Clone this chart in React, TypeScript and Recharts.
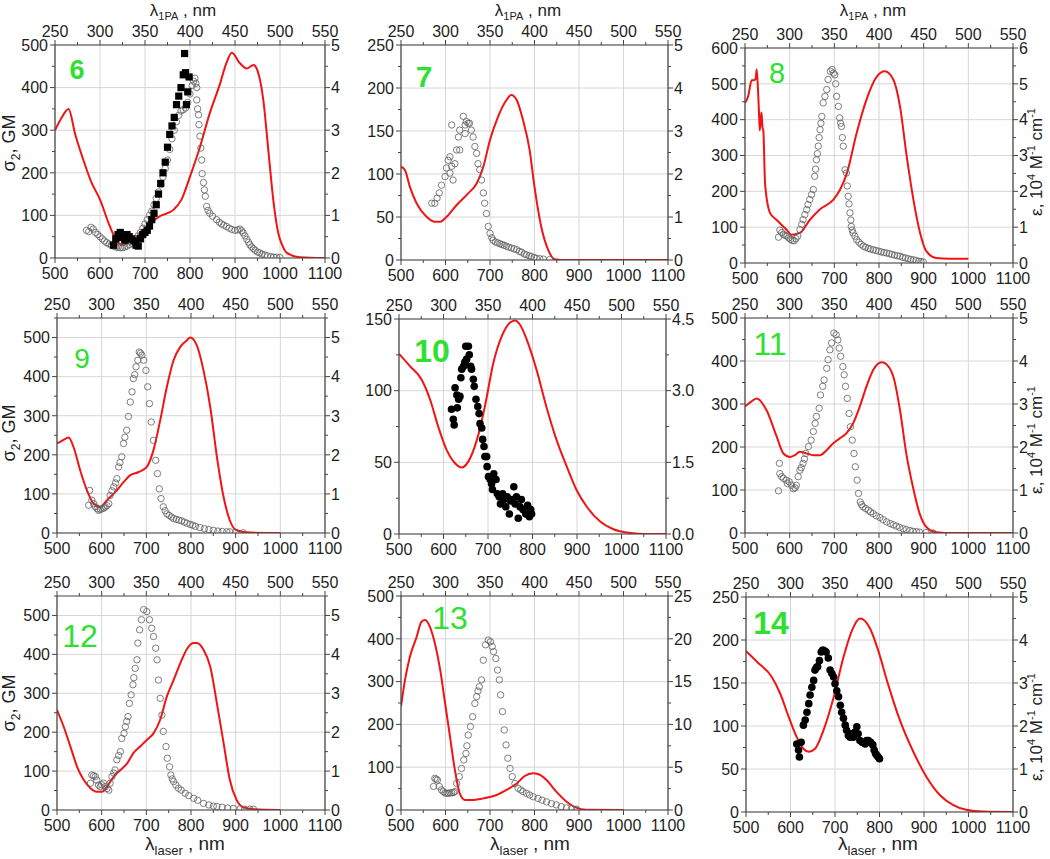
import React from "react";
import {
  ComposedChart,
  Line,
  Scatter,
  XAxis,
  YAxis,
  CartesianGrid,
} from "recharts";

type Pt = [number, number];

// laser wavelength axis (bottom) and 1PA wavelength axis (top)
const laserTicks = [500, 600, 700, 800, 900, 1000, 1100];
const onePaTicks = [250, 300, 350, 400, 450, 500, 550];

// ---- compound 6 ----
const abs6: Pt[] = [[500, 3.0], [515, 3.3], [530, 3.5], [545, 2.9], [563, 2.3], [580, 1.8], [600, 1.37], [622, 0.74], [641, 0.35], [652, 0.31], [674, 0.43], [704, 0.74], [733, 0.98], [763, 1.13], [781, 1.37], [800, 1.91], [822, 2.6], [844, 3.4], [867, 4.1], [880, 4.55], [893, 4.82], [911, 4.57], [926, 4.45], [941, 4.53], [950, 4.4], [963, 3.7], [974, 2.54], [985, 1.37], [996, 0.59], [1005, 0.3], [1015, 0.12], [1044, 0.02], [1100, 0]];
const open6: Pt[] = [[570, 65], [575, 62], [580, 72], [585, 68], [590, 60], [595, 55], [600, 50], [605, 45], [610, 40], [615, 36], [620, 33], [625, 30], [630, 28], [635, 26], [640, 25], [645, 24], [650, 24], [655, 26], [660, 28], [665, 31], [670, 35], [675, 40], [680, 45], [685, 52], [690, 60], [695, 70], [700, 80], [705, 90], [710, 100], [715, 110], [720, 125], [725, 140], [730, 155], [735, 172], [740, 190], [745, 210], [750, 230], [755, 255], [760, 280], [765, 300], [770, 320], [775, 335], [780, 345], [785, 348], [790, 352], [795, 365], [800, 385], [805, 405], [808, 415], [811, 422], [813, 410], [815, 400], [815, 371], [817, 350], [819, 336], [820, 313], [822, 286], [824, 258], [826, 230], [827, 198], [830, 177], [832, 160], [834, 145], [837, 121], [840, 112], [844, 105], [850, 98], [859, 90], [865, 84], [870, 80], [875, 77], [881, 74], [887, 70], [893, 67], [900, 65], [906, 66], [911, 68], [915, 64], [918, 59], [922, 52], [926, 44], [930, 37], [933, 31], [937, 26], [941, 22], [945, 18], [950, 14], [955, 12], [960, 9], [966, 7], [972, 5], [980, 3], [986, 2], [992, 2], [1000, 1]];
const filled6: Pt[] = [[630, 30], [635, 45], [640, 55], [645, 60], [650, 48], [655, 42], [660, 55], [665, 50], [670, 45], [675, 40], [680, 30], [685, 28], [690, 45], [695, 55], [700, 60], [705, 65], [710, 75], [715, 90], [720, 105], [725, 125], [730, 150], [735, 175], [740, 200], [745, 225], [750, 260], [755, 290], [760, 310], [765, 330], [770, 360], [775, 380], [780, 400], [785, 430], [788, 480], [790, 435], [792, 360], [795, 390], [798, 425]];

// ---- compound 7 ----
const abs7: Pt[] = [[500, 2.17], [509, 2.09], [520, 1.7], [535, 1.32], [558, 1.0], [576, 0.89], [588, 0.89], [602, 1.0], [625, 1.28], [651, 1.55], [670, 1.78], [685, 2.17], [700, 2.79], [718, 3.33], [737, 3.72], [748, 3.84], [760, 3.72], [774, 3.26], [789, 2.56], [800, 1.7], [815, 0.78], [831, 0.23], [845, 0.02], [872, 0], [1100, 0]];
const open7: Pt[] = [[569, 66], [576, 66], [581, 72], [586, 78], [591, 87], [599, 97], [602, 107], [606, 116], [610, 120], [610, 101], [614, 109], [617, 93], [614, 157], [621, 112], [625, 128], [629, 143], [632, 151], [632, 128], [640, 167], [644, 147], [644, 157], [647, 161], [651, 159], [654, 159], [658, 151], [662, 143], [666, 132], [670, 124], [673, 112], [677, 105], [681, 93], [685, 78], [688, 66], [692, 54], [696, 39], [700, 31], [704, 26], [707, 23], [712, 21], [717, 20], [722, 19], [727, 18], [732, 17], [737, 16], [742, 15], [748, 14], [754, 13], [760, 12], [766, 10], [771, 9], [777, 7], [782, 6], [788, 5], [793, 4], [799, 3], [804, 2], [812, 1.5], [820, 1], [834, 0.5]];

// ---- compound 8 ----
const abs8: Pt[] = [[500, 4.47], [507, 4.65], [515, 5.1], [520, 5.1], [524, 5.15], [526, 5.4], [528, 5.1], [531, 4.3], [533, 3.7], [535, 4.0], [537, 4.2], [539, 3.8], [541, 3.7], [545, 2.2], [556, 1.4], [571, 1.2], [593, 0.93], [604, 0.79], [623, 0.84], [645, 1.2], [668, 1.5], [698, 1.77], [713, 2.05], [728, 2.5], [750, 3.63], [772, 4.56], [795, 5.2], [813, 5.35], [832, 5.12], [847, 4.37], [862, 2.98], [877, 1.77], [892, 0.84], [906, 0.33], [928, 0.14], [958, 0.12], [1000, 0.12]];
const open8: Pt[] = [[575, 72], [578, 92], [582, 85], [586, 80], [590, 77], [594, 75], [598, 70], [602, 66], [606, 63], [610, 62], [614, 68], [618, 75], [623, 93], [627, 108], [630, 121], [634, 135], [638, 149], [641, 163], [645, 177], [649, 191], [653, 205], [656, 242], [658, 262], [660, 288], [662, 305], [664, 326], [666, 350], [668, 372], [670, 390], [672, 409], [675, 447], [679, 465], [683, 484], [686, 512], [691, 535], [695, 540], [698, 530], [701, 525], [703, 500], [705, 465], [709, 437], [712, 405], [714, 390], [716, 381], [718, 350], [720, 326], [724, 260], [727, 251], [729, 215], [731, 186], [733, 165], [735, 140], [737, 120], [738, 102], [740, 92], [742, 84], [746, 75], [750, 65], [755, 58], [760, 52], [765, 47], [770, 44], [776, 41], [781, 39], [787, 37], [793, 35], [799, 33], [805, 31], [811, 29], [817, 28], [823, 26], [829, 24], [835, 22], [841, 20], [847, 19], [853, 16], [859, 14], [865, 12], [871, 10], [877, 9], [883, 7], [889, 5], [894, 4], [899, 3]];

// ---- compound 9 ----
const abs9: Pt[] = [[500, 2.29], [510, 2.35], [519, 2.41], [526, 2.44], [537, 2.2], [552, 1.6], [567, 1.09], [582, 0.75], [597, 0.67], [612, 0.84], [634, 1.09], [649, 1.3], [664, 1.48], [683, 1.56], [701, 1.69], [716, 2.12], [731, 2.88], [746, 3.74], [761, 4.42], [776, 4.76], [791, 4.93], [798, 5.0], [813, 4.8], [828, 4.16], [843, 3.23], [858, 1.95], [873, 0.92], [887, 0.32], [902, 0.07], [932, 0.01], [1000, 0]];
const open9: Pt[] = [[573, 109], [571, 71], [578, 84], [582, 75], [586, 67], [590, 62], [593, 58], [597, 60], [601, 62], [605, 64], [608, 67], [612, 70], [616, 75], [619, 96], [623, 108], [627, 118], [631, 128], [634, 139], [638, 169], [641, 180], [645, 195], [649, 229], [652, 245], [656, 263], [660, 298], [664, 335], [668, 361], [671, 395], [674, 405], [677, 425], [681, 442], [684, 463], [687, 460], [690, 455], [694, 442], [699, 416], [703, 374], [707, 331], [711, 284], [716, 237], [721, 186], [725, 152], [729, 113], [733, 88], [738, 67], [742, 57], [746, 49], [751, 45], [756, 41], [761, 37], [767, 35], [773, 33], [779, 31], [785, 28], [791, 25], [798, 22], [804, 20], [810, 17], [820, 14], [830, 11], [840, 9], [850, 7], [860, 5], [870, 4], [880, 3], [887, 3], [900, 2], [917, 0.5]];

// ---- compound 10 ----
const abs10: Pt[] = [[500, 3.77], [525, 3.51], [551, 3.23], [570, 2.81], [588, 2.25], [607, 1.76], [626, 1.48], [641, 1.39], [656, 1.52], [675, 1.97], [693, 2.67], [712, 3.58], [731, 4.14], [749, 4.42], [761, 4.47], [772, 4.38], [787, 4.07], [809, 3.44], [831, 2.67], [854, 1.97], [877, 1.41], [899, 0.92], [922, 0.57], [952, 0.26], [982, 0.1], [1012, 0.03], [1049, 0], [1100, 0]];
const dots10: Pt[] = [[618, 87], [622, 80], [624, 76], [626, 102], [630, 97], [631, 88], [634, 94], [637, 96], [639, 109], [641, 115], [645, 117], [648, 120], [652, 122], [650, 131], [656, 131], [658, 125], [661, 117], [663, 115], [667, 108], [669, 103], [673, 94], [677, 89], [680, 84], [682, 77], [686, 74], [688, 66], [691, 61], [693, 54], [697, 54], [698, 47], [701, 40], [705, 38], [708, 35], [710, 31], [713, 42], [718, 38], [721, 28], [725, 26], [728, 21], [733, 28], [736, 24], [740, 19], [743, 26], [748, 14], [751, 23], [755, 24], [758, 33], [761, 21], [764, 26], [768, 11], [772, 19], [775, 24], [779, 17], [785, 14], [789, 20], [793, 12], [796, 17], [798, 14]];

// ---- compound 11 ----
const abs11: Pt[] = [[500, 2.94], [513, 3.05], [526, 3.13], [548, 2.86], [571, 2.24], [586, 1.85], [601, 1.77], [612, 1.81], [623, 1.89], [638, 1.85], [653, 1.81], [668, 1.81], [683, 1.93], [697, 2.08], [712, 2.2], [727, 2.32], [742, 2.55], [757, 2.94], [772, 3.41], [787, 3.79], [806, 3.97], [813, 3.95], [832, 3.64], [847, 2.86], [861, 1.85], [876, 1.07], [891, 0.45], [906, 0.14], [928, 0.02], [966, 0], [1100, 0]];
const open11: Pt[] = [[577, 162], [575, 98], [578, 138], [582, 131], [586, 127], [592, 123], [595, 115], [599, 119], [604, 111], [608, 103], [612, 105], [615, 111], [619, 131], [623, 146], [626, 152], [630, 162], [633, 172], [636, 185], [642, 201], [648, 216], [653, 236], [657, 255], [660, 271], [666, 290], [669, 321], [674, 341], [677, 356], [683, 383], [686, 403], [690, 426], [694, 442], [699, 465], [704, 461], [708, 449], [711, 430], [714, 411], [719, 387], [722, 368], [725, 341], [729, 313], [733, 278], [736, 247], [740, 216], [744, 185], [747, 154], [751, 123], [754, 92], [758, 72], [761, 66], [764, 61], [770, 57], [776, 53], [781, 49], [787, 45], [794, 40], [802, 36], [809, 31], [817, 26], [825, 22], [832, 19], [839, 16], [846, 13], [854, 10], [861, 8], [869, 6], [876, 4], [884, 3], [891, 2], [905, 1], [921, 0]];

// ---- compound 12 ----
const abs12: Pt[] = [[500, 2.57], [515, 2.14], [530, 1.63], [545, 1.11], [560, 0.77], [575, 0.56], [589, 0.47], [601, 0.47], [612, 0.6], [627, 0.86], [642, 1.03], [657, 1.2], [671, 1.46], [686, 1.63], [701, 1.8], [716, 1.97], [731, 2.32], [746, 2.92], [761, 3.34], [776, 3.77], [790, 4.12], [805, 4.29], [813, 4.29], [828, 4.12], [843, 3.69], [858, 2.74], [873, 1.72], [887, 0.77], [902, 0.26], [917, 0.07], [940, 0.02], [1000, 0]];
const open12: Pt[] = [[575, 69], [578, 90], [582, 88], [586, 86], [589, 77], [593, 64], [597, 60], [600, 65], [604, 69], [608, 60], [612, 55], [616, 51], [619, 69], [623, 86], [627, 95], [630, 103], [634, 129], [638, 140], [642, 150], [645, 184], [650, 197], [653, 214], [656, 228], [659, 240], [662, 274], [666, 296], [670, 322], [672, 340], [675, 364], [679, 386], [681, 429], [685, 463], [689, 489], [694, 515], [701, 510], [707, 489], [712, 467], [716, 446], [721, 416], [724, 386], [727, 334], [731, 287], [735, 244], [738, 202], [744, 163], [747, 133], [752, 111], [755, 90], [758, 80], [761, 73], [766, 64], [772, 56], [778, 51], [787, 43], [795, 37], [806, 30], [815, 25], [828, 17], [840, 13], [850, 10], [858, 9], [870, 7], [882, 5], [895, 4], [910, 3], [920, 2], [932, 2], [940, 2]];

// ---- compound 13 ----
const abs13: Pt[] = [[500, 12.1], [509, 15.2], [520, 17.9], [535, 20.2], [546, 22.0], [554, 22.2], [565, 21.4], [576, 19.5], [588, 16.4], [599, 12.5], [610, 8.6], [621, 4.7], [632, 1.95], [644, 1.17], [659, 1.17], [685, 1.36], [715, 1.75], [737, 2.34], [760, 3.1], [778, 3.97], [797, 4.28], [808, 4.2], [827, 3.5], [849, 2.14], [872, 0.97], [894, 0.27], [916, 0.04], [1000, 0]];
const open13: Pt[] = [[573, 55], [576, 74], [579, 72], [582, 70], [586, 55], [591, 47], [595, 43], [599, 40], [603, 39], [606, 39], [610, 40], [614, 40], [618, 41], [621, 43], [625, 62], [631, 78], [636, 97], [641, 117], [646, 132], [648, 150], [651, 175], [656, 195], [661, 218], [666, 249], [670, 265], [673, 278], [676, 288], [681, 304], [685, 350], [690, 386], [696, 397], [701, 393], [705, 382], [708, 370], [713, 354], [717, 327], [721, 304], [724, 269], [728, 230], [732, 187], [736, 152], [740, 121], [745, 97], [750, 78], [756, 62], [763, 51], [769, 47], [774, 43], [782, 39], [789, 35], [797, 31], [808, 27], [817, 23], [827, 19], [838, 15], [849, 12], [860, 8], [872, 5], [883, 3], [894, 2]];

// ---- compound 14 ----
const abs14: Pt[] = [[500, 3.74], [525, 3.49], [558, 3.14], [577, 2.75], [596, 2.21], [614, 1.74], [629, 1.47], [641, 1.4], [655, 1.47], [674, 1.9], [697, 2.67], [719, 3.6], [738, 4.22], [756, 4.5], [764, 4.47], [779, 4.26], [797, 3.76], [819, 2.98], [846, 2.13], [876, 1.4], [906, 0.81], [936, 0.39], [966, 0.16], [995, 0.05], [1033, 0.01], [1100, 0]];
const dots14: Pt[] = [[614, 79], [618, 72], [620, 64], [624, 81], [629, 101], [633, 107], [637, 116], [641, 126], [644, 136], [648, 145], [652, 153], [655, 165], [658, 168], [661, 169], [665, 176], [669, 186], [672, 188], [674, 188], [677, 187], [680, 186], [685, 179], [689, 165], [693, 161], [697, 157], [700, 149], [704, 141], [708, 134], [712, 124], [715, 116], [719, 109], [723, 101], [726, 95], [730, 89], [734, 87], [738, 91], [741, 87], [745, 93], [749, 99], [752, 91], [756, 83], [761, 81], [768, 79], [771, 83], [775, 83], [780, 81], [785, 78], [788, 72], [791, 68], [794, 66], [797, 64], [800, 62]];

type Marker = "open" | "dot" | "square";
type Side = "bottom" | "top" | "left" | "right";

interface PanelDef {
  num: string;
  bold: boolean;
  numSize: number;
  numX: number;
  numY: number;
  left: number;
  top: number;
  w: number;
  h: number;
  yMax: number;
  yTicks: number[];
  eMax: number;
  eTicks: number[];
  eDigits?: number;
  abs: Pt[];
  series: { pts: Pt[]; marker: Marker }[];
}

const panels: PanelDef[] = [
  { num: "6", bold: true, numSize: 27, numX: 77, numY: 69, left: 55, top: 45, w: 270, h: 213, yMax: 500, yTicks: [0, 100, 200, 300, 400, 500], eMax: 5, eTicks: [0, 1, 2, 3, 4, 5], abs: abs6, series: [{ pts: open6, marker: "open" }, { pts: filled6, marker: "square" }] },
  { num: "7", bold: true, numSize: 30, numX: 424, numY: 76, left: 401, top: 45, w: 267, h: 215, yMax: 250, yTicks: [0, 50, 100, 150, 200, 250], eMax: 5, eTicks: [0, 1, 2, 3, 4, 5], abs: abs7, series: [{ pts: open7, marker: "open" }] },
  { num: "8", bold: false, numSize: 29, numX: 777, numY: 73, left: 745, top: 48, w: 268, h: 215, yMax: 600, yTicks: [0, 100, 200, 300, 400, 500, 600], eMax: 6, eTicks: [0, 1, 2, 3, 4, 5, 6], abs: abs8, series: [{ pts: open8, marker: "open" }] },
  { num: "9", bold: false, numSize: 28, numX: 82, numY: 358, left: 57, top: 318, w: 268, h: 215, yMax: 550, yTicks: [0, 100, 200, 300, 400, 500], eMax: 5.5, eTicks: [0, 1, 2, 3, 4, 5], abs: abs9, series: [{ pts: open9, marker: "open" }] },
  { num: "10", bold: true, numSize: 32, numX: 432, numY: 350, left: 399, top: 319, w: 267, h: 215, yMax: 150, yTicks: [0, 50, 100, 150], eMax: 4.5, eTicks: [0, 1.5, 3, 4.5], eDigits: 1, abs: abs10, series: [{ pts: dots10, marker: "dot" }] },
  { num: "11", bold: false, numSize: 32, numX: 770, numY: 343, left: 745, top: 318, w: 268, h: 215, yMax: 500, yTicks: [0, 100, 200, 300, 400, 500], eMax: 5, eTicks: [0, 1, 2, 3, 4, 5], abs: abs11, series: [{ pts: open11, marker: "open" }] },
  { num: "12", bold: false, numSize: 32, numX: 80, numY: 635, left: 57, top: 596, w: 268, h: 214, yMax: 550, yTicks: [0, 100, 200, 300, 400, 500], eMax: 5.5, eTicks: [0, 1, 2, 3, 4, 5], abs: abs12, series: [{ pts: open12, marker: "open" }] },
  { num: "13", bold: false, numSize: 32, numX: 450, numY: 617, left: 401, top: 596, w: 267, h: 214, yMax: 500, yTicks: [0, 100, 200, 300, 400, 500], eMax: 25, eTicks: [0, 5, 10, 15, 20, 25], abs: abs13, series: [{ pts: open13, marker: "open" }] },
  { num: "14", bold: true, numSize: 32, numX: 771, numY: 622, left: 746, top: 597, w: 267, h: 215, yMax: 250, yTicks: [0, 50, 100, 150, 200, 250], eMax: 5, eTicks: [0, 1, 2, 3, 4, 5], abs: abs14, series: [{ pts: dots14, marker: "dot" }] },
];

const FONT = "Arial, 'Liberation Sans', sans-serif";
const AXIS_COLOR = "#444";
const TEXT_COLOR = "#1e1e1e";
const TICK_FONT = 16;
const GREEN = "#30e030";
const RED = "#f01414";

const PAD_L = 50;
const PAD_R = 42;
const PAD_T = 40;
const PAD_B = 40;

// invisible carrier so the top (1PA) axis gets a domain and draws its ticks
const topCarrier = onePaTicks.map((x) => ({ x, e: 0 }));

// major ticks plus a minor tick half-way between each pair
const withMinors = (majors: number[], max?: number) => {
  const out: number[] = [];
  majors.forEach((m, i) => {
    out.push(m);
    const next = i + 1 < majors.length ? majors[i + 1] : undefined;
    const step = majors[1] - majors[0];
    const mid = next !== undefined ? (m + next) / 2 : m + step / 2;
    if (next !== undefined || (max !== undefined && mid <= max + 1e-9)) out.push(mid);
  });
  return out;
};

const makeTick = (side: Side, majors: number[], digits = 0) => (props: any) => {
  const { x, y, payload } = props;
  const v = payload.value as number;
  const major = majors.some((m) => Math.abs(m - v) < 1e-6);
  const len = major ? 5 : 3;
  const label = digits ? v.toFixed(digits) : String(v);
  let line = { x1: x, y1: y, x2: x, y2: y };
  let text: any = null;
  if (side === "bottom") {
    line = { x1: x, y1: y, x2: x, y2: y + len };
    if (major) text = { x, y: y + 21, anchor: "middle" };
  } else if (side === "top") {
    line = { x1: x, y1: y, x2: x, y2: y - len };
    if (major) text = { x, y: y - 8, anchor: "middle" };
  } else if (side === "left") {
    line = { x1: x, y1: y, x2: x - len, y2: y };
    if (major) text = { x: x - 7, y: y + 5.8, anchor: "end" };
  } else {
    line = { x1: x, y1: y, x2: x + len, y2: y };
    if (major) text = { x: x + 6, y: y + 5.8, anchor: "start" };
  }
  return (
    <g>
      <line {...line} stroke={AXIS_COLOR} strokeWidth={1} />
      {text && (
        <text x={text.x} y={text.y} textAnchor={text.anchor} fontSize={TICK_FONT} fontFamily={FONT} fill={TEXT_COLOR}>
          {label}
        </text>
      )}
    </g>
  );
};

const markerShape = (kind: Marker) => (props: any) => {
  const { cx, cy } = props;
  if (cx == null || cy == null) return <g />;
  if (kind === "square")
    return <rect x={cx - 3.6} y={cy - 3.6} width={7.2} height={7.2} fill="#000" />;
  if (kind === "dot") return <circle cx={cx} cy={cy} r={3.8} fill="#000" />;
  return <circle cx={cx} cy={cy} r={3.2} fill="none" stroke="#5e5e5e" strokeWidth={0.8} />;
};

function Panel({ p }: { p: PanelDef }) {
  const absData = p.abs.map(([x, e]) => ({ x, e }));
  const axisLine = { stroke: AXIS_COLOR, strokeWidth: 1.2 };
  const common = { allowDataOverflow: true, interval: 0 as const, tickSize: 0, tickMargin: 0, tickLine: false, axisLine };
  return (
    <div style={{ position: "absolute", left: p.left - PAD_L, top: p.top - PAD_T }}>
      <ComposedChart
        width={p.w + PAD_L + PAD_R}
        height={p.h + PAD_T + PAD_B}
        margin={{ top: 0, right: 0, bottom: 0, left: 0 }}
      >
        <CartesianGrid
          xAxisId="bot"
          yAxisId="left"
          verticalValues={laserTicks}
          horizontalValues={p.yTicks}
          stroke="#d6d6d6"
          strokeWidth={1}
        />
        <XAxis
          {...common}
          xAxisId="bot"
          dataKey="x"
          type="number"
          domain={[500, 1100]}
          ticks={withMinors(laserTicks)}
          height={PAD_B}
          tick={makeTick("bottom", laserTicks)}
        />
        <XAxis
          {...common}
          xAxisId="top"
          dataKey="x"
          orientation="top"
          type="number"
          domain={[250, 550]}
          ticks={withMinors(onePaTicks)}
          height={PAD_T}
          tick={makeTick("top", onePaTicks)}
        />
        <YAxis
          {...common}
          yAxisId="left"
          dataKey="s"
          type="number"
          domain={[0, p.yMax]}
          ticks={withMinors(p.yTicks, p.yMax)}
          width={PAD_L}
          tick={makeTick("left", p.yTicks)}
        />
        <YAxis
          {...common}
          yAxisId="right"
          orientation="right"
          type="number"
          domain={[0, p.eMax]}
          ticks={withMinors(p.eTicks, p.eMax)}
          width={PAD_R}
          tick={makeTick("right", p.eTicks, p.eDigits)}
        />
        <Line
          data={topCarrier}
          dataKey="e"
          xAxisId="top"
          yAxisId="right"
          stroke="none"
          dot={false}
          activeDot={false}
          isAnimationActive={false}
        />
        {p.series
          .filter((s) => s.marker === "open")
          .map((s, i) => (
            <Scatter
              key={"o" + i}
              data={s.pts.map(([x, v]) => ({ x, s: v }))}
              dataKey="s"
              xAxisId="bot"
              yAxisId="left"
              shape={markerShape(s.marker)}
              isAnimationActive={false}
            />
          ))}
        <Line
          data={absData}
          dataKey="e"
          xAxisId="bot"
          yAxisId="right"
          type="monotone"
          stroke={RED}
          strokeWidth={2}
          dot={false}
          isAnimationActive={false}
        />
        {p.series
          .filter((s) => s.marker !== "open")
          .map((s, i) => (
            <Scatter
              key={"f" + i}
              data={s.pts.map(([x, v]) => ({ x, s: v }))}
              dataKey="s"
              xAxisId="bot"
              yAxisId="left"
              shape={markerShape(s.marker)}
              isAnimationActive={false}
            />
          ))}
      </ComposedChart>
    </div>
  );
}

function LeftTitle({ x, y }: { x: number; y: number }) {
  return (
    <text x={x} y={y} transform={`rotate(-90 ${x} ${y})`} textAnchor="middle" fontSize={18} fill={TEXT_COLOR}>
      σ<tspan fontSize={12} dy={5}>2</tspan>
      <tspan dy={-5}>, GM</tspan>
    </text>
  );
}

function RightTitle({ x, y }: { x: number; y: number }) {
  return (
    <text x={x} y={y} transform={`rotate(-90 ${x} ${y})`} textAnchor="middle" fontSize={17} fill={TEXT_COLOR}>
      ε, 10<tspan fontSize={11} dy={-7}>4</tspan>
      <tspan dy={7}> M</tspan>
      <tspan fontSize={11} dy={-7}>-1</tspan>
      <tspan dy={7}> cm</tspan>
      <tspan fontSize={11} dy={-7}>-1</tspan>
    </text>
  );
}

function TopTitle({ x, y }: { x: number; y: number }) {
  return (
    <text x={x} y={y} textAnchor="middle" fontSize={17} fill={TEXT_COLOR}>
      λ<tspan fontSize={11} dy={4}>1PA</tspan>
      <tspan dy={-4}> , nm</tspan>
    </text>
  );
}

function BottomTitle({ x, y }: { x: number; y: number }) {
  return (
    <text x={x} y={y} textAnchor="middle" fontSize={19} fill={TEXT_COLOR}>
      λ<tspan fontSize={13} dy={5}>laser</tspan>
      <tspan dy={-5}> , nm</tspan>
    </text>
  );
}

export default function App() {
  return (
    <div
      style={{
        position: "absolute",
        left: 0,
        top: 0,
        width: 1050,
        height: 859,
        background: "#fff",
        fontFamily: FONT,
      }}
    >
      {panels.map((p) => (
        <Panel key={p.num} p={p} />
      ))}
      <svg
        width={1050}
        height={859}
        style={{ position: "absolute", left: 0, top: 0, pointerEvents: "none", fontFamily: FONT }}
      >
        {panels.map((p) => (
          <text
            key={"n" + p.num}
            x={p.numX}
            y={p.numY + p.numSize * 0.36}
            textAnchor="middle"
            fontSize={p.numSize}
            fontWeight={p.bold ? 700 : 400}
            fill={GREEN}
          >
            {p.num}
          </text>
        ))}
        <TopTitle x={183} y={16} />
        <TopTitle x={528} y={16} />
        <TopTitle x={873} y={16} />
        <LeftTitle x={15} y={143} />
        <LeftTitle x={15} y={433} />
        <LeftTitle x={15} y={703} />
        <RightTitle x={1042} y={162} />
        <RightTitle x={1042} y={440} />
        <RightTitle x={1042} y={727} />
        <BottomTitle x={185} y={850} />
        <BottomTitle x={530} y={850} />
        <BottomTitle x={878} y={850} />
      </svg>
    </div>
  );
}
